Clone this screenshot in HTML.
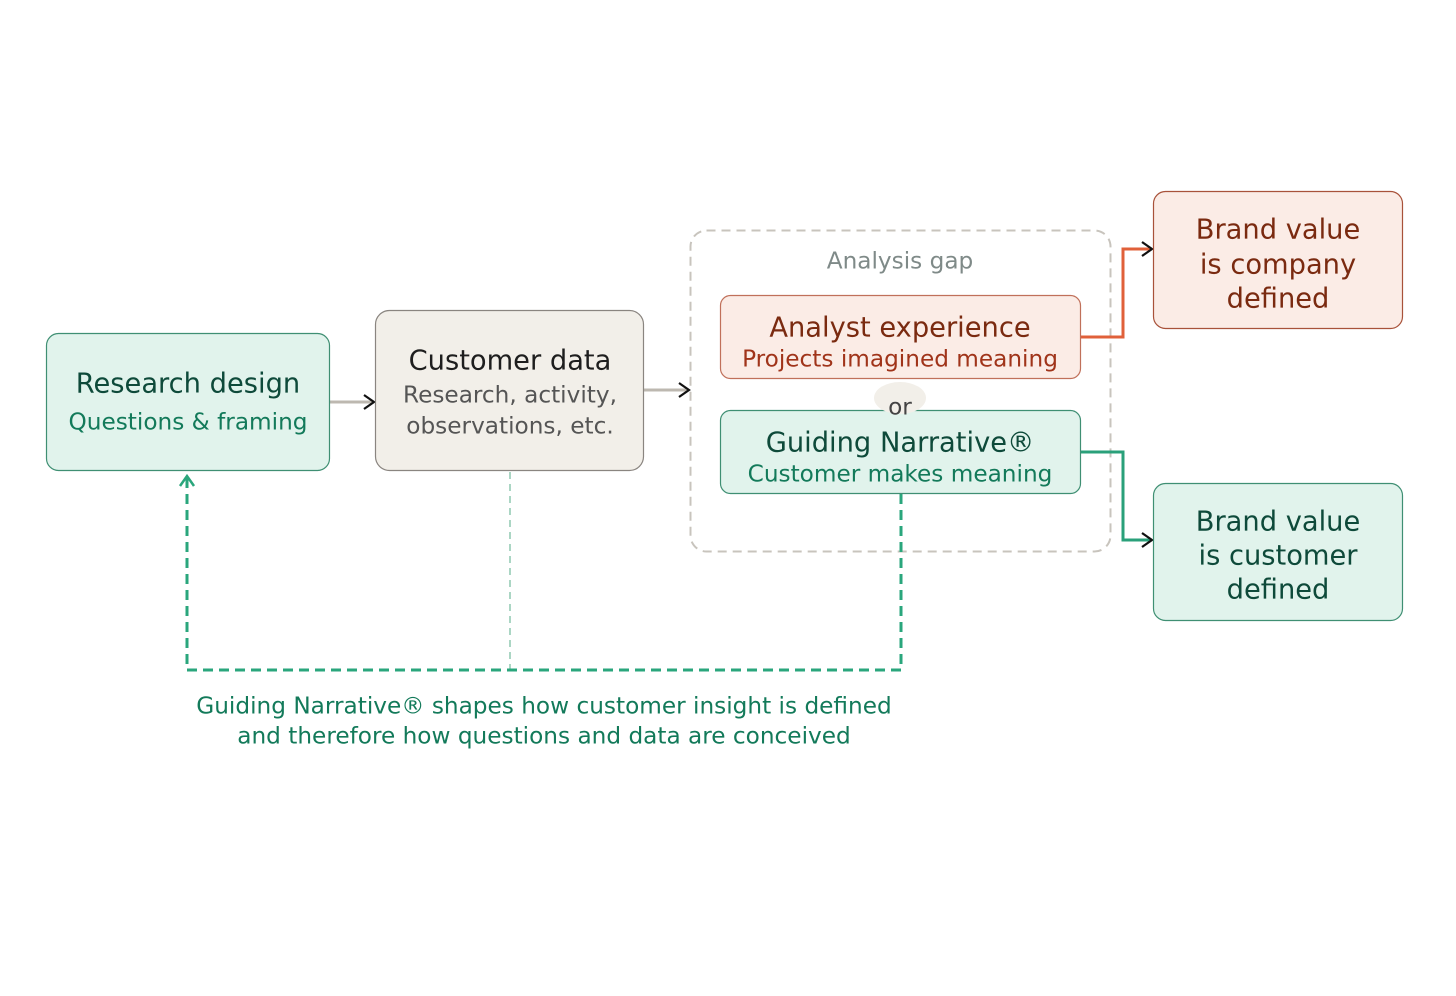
<!DOCTYPE html>
<html><head><meta charset="utf-8"><style>
html,body{margin:0;padding:0;background:#fff;}
svg{display:block;}
text{font-family:"DejaVu Sans","Liberation Sans",sans-serif;}
</style></head><body>
<svg width="1456" height="996" viewBox="0 0 1456 996" xmlns="http://www.w3.org/2000/svg">
<rect width="1456" height="996" fill="#fff"/>
<rect x="690.5" y="230.5" width="420" height="321" rx="16" fill="none" stroke="#c8c4bd" stroke-width="2" stroke-dasharray="9,6"/>
<text x="900" y="261" font-size="23.2" fill="#7f8a88" text-anchor="middle" dominant-baseline="central">Analysis gap</text>

<polyline points="510,472 510,670" fill="none" stroke="#8fc9b0" stroke-width="1.5" stroke-dasharray="7,5"/>
<polyline points="901,494 901,670 187,670 187,478" fill="none" stroke="#2aa67c" stroke-width="3" stroke-dasharray="10,6"/>
<polyline points="180,486 187,476 194,486" fill="none" stroke="#2aa67c" stroke-width="2.5"/>

<line x1="330" y1="402" x2="374" y2="402" stroke="#bdb8b0" stroke-width="3"/>
<polyline points="364,395 374,402 364,409" fill="none" stroke="#111" stroke-width="2.2"/>
<line x1="644" y1="390" x2="689" y2="390" stroke="#bdb8b0" stroke-width="3"/>
<polyline points="679,383 689,390 679,397" fill="none" stroke="#111" stroke-width="2.2"/>

<polyline points="1080,337 1123,337 1123,249 1152,249" fill="none" stroke="#e0603a" stroke-width="3"/>
<polyline points="1142,242 1152,249 1142,256" fill="none" stroke="#111" stroke-width="2.2"/>
<polyline points="1080,452 1123,452 1123,540 1152,540" fill="none" stroke="#2aa07a" stroke-width="3"/>
<polyline points="1142,533 1152,540 1142,547" fill="none" stroke="#111" stroke-width="2.2"/>

<rect x="46.5" y="333.5" width="283" height="137" rx="12" fill="#e1f3ec" stroke="#3f8f73" stroke-width="1.2"/>
<text x="188" y="384" font-size="27.3" fill="#0e4a3a" text-anchor="middle" dominant-baseline="central">Research design</text>
<text x="188" y="422" font-size="23.2" fill="#137a5a" text-anchor="middle" dominant-baseline="central">Questions &amp; framing</text>

<rect x="375.5" y="310.5" width="268" height="160" rx="14" fill="#f2efe9" stroke="#8a8580" stroke-width="1.2"/>
<text x="510" y="361" font-size="27.3" fill="#1e1e1e" text-anchor="middle" dominant-baseline="central">Customer data</text>
<text x="510" y="395" font-size="23.2" fill="#555" text-anchor="middle" dominant-baseline="central">Research, activity,</text>
<text x="510" y="426" font-size="23.2" fill="#555" text-anchor="middle" dominant-baseline="central">observations, etc.</text>

<rect x="720.5" y="295.5" width="360" height="83" rx="10" fill="#fbece6" stroke="#c0705a" stroke-width="1.2"/>
<text x="900" y="328" font-size="27.3" fill="#7a2a10" text-anchor="middle" dominant-baseline="central">Analyst experience</text>
<text x="900" y="359" font-size="23.2" fill="#a0341a" text-anchor="middle" dominant-baseline="central">Projects imagined meaning</text>

<rect x="720.5" y="410.5" width="360" height="83" rx="10" fill="#e1f3ec" stroke="#3f8f73" stroke-width="1.2"/>
<text x="900" y="443" font-size="27.3" fill="#0e4a3a" text-anchor="middle" dominant-baseline="central">Guiding Narrative®</text>
<text x="900" y="474" font-size="23.2" fill="#137a5a" text-anchor="middle" dominant-baseline="central">Customer makes meaning</text>

<ellipse cx="900" cy="398" rx="26" ry="16" fill="#f2efe9"/>
<text x="900" y="407" font-size="23.2" fill="#444" text-anchor="middle" dominant-baseline="central">or</text>

<rect x="1153.5" y="191.5" width="249" height="137" rx="12" fill="#fbece6" stroke="#a8523a" stroke-width="1.2"/>
<text x="1278" y="230" font-size="27.3" fill="#7a2a10" text-anchor="middle" dominant-baseline="central">Brand value</text>
<text x="1278" y="265" font-size="27.3" fill="#7a2a10" text-anchor="middle" dominant-baseline="central">is company</text>
<text x="1278" y="299" font-size="27.3" fill="#7a2a10" text-anchor="middle" dominant-baseline="central">defined</text>

<rect x="1153.5" y="483.5" width="249" height="137" rx="12" fill="#e1f3ec" stroke="#3f8f73" stroke-width="1.2"/>
<text x="1278" y="522" font-size="27.3" fill="#0e4a3a" text-anchor="middle" dominant-baseline="central">Brand value</text>
<text x="1278" y="556" font-size="27.3" fill="#0e4a3a" text-anchor="middle" dominant-baseline="central">is customer</text>
<text x="1278" y="590" font-size="27.3" fill="#0e4a3a" text-anchor="middle" dominant-baseline="central">defined</text>

<text x="544" y="706" font-size="23.2" fill="#137a5a" text-anchor="middle" dominant-baseline="central">Guiding Narrative® shapes how customer insight is defined</text>
<text x="544" y="736" font-size="23.2" fill="#137a5a" text-anchor="middle" dominant-baseline="central">and therefore how questions and data are conceived</text>
</svg>
</body></html>
